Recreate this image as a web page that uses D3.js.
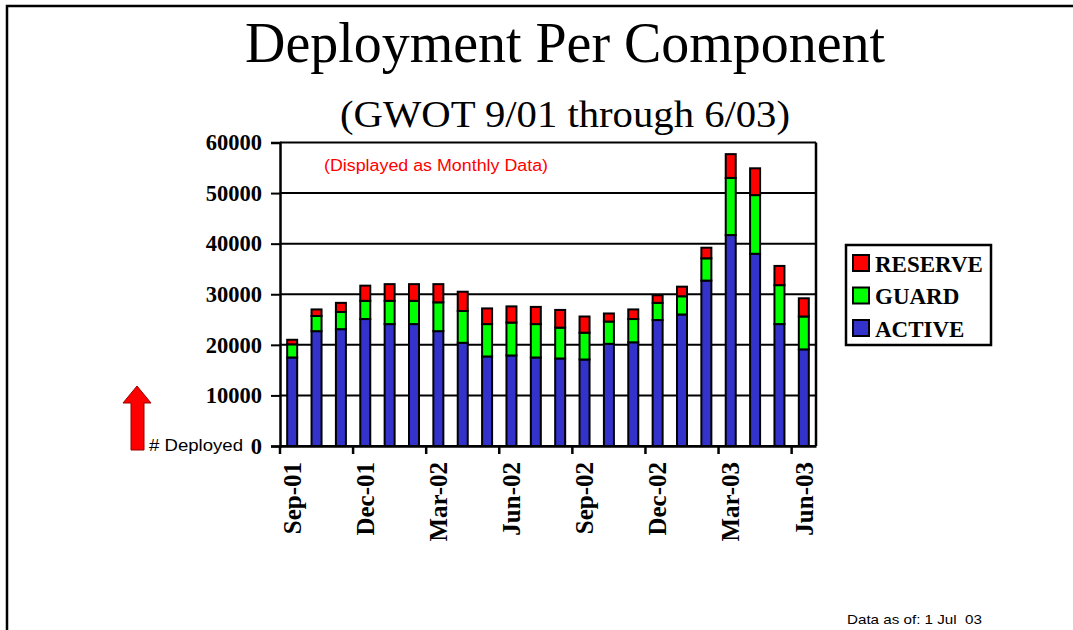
<!DOCTYPE html>
<html lang="en">
<head>
  <meta charset="UTF-8">
  <title>Deployment Per Component</title>
  <style>
    html, body {
      margin: 0;
      background: #fff;
      overflow: hidden;
      width: 100%;
      height: 100%;
    }
    svg {
      position: absolute;
      top: 0;
      left: 0;
    }
  </style>
</head>
<body>
  <svg width="1073" height="630"></svg>
</body>
<script src="https://d3js.org/d3.v7.min.js"></script>
<script type="text/javascript">
  const months = ['Sep-01', 'Oct-01', 'Nov-01', 'Dec-01', 'Jan-02', 'Feb-02', 'Mar-02', 'Apr-02',
    'May-02', 'Jun-02', 'Jul-02', 'Aug-02', 'Sep-02', 'Oct-02', 'Nov-02', 'Dec-02',
    'Jan-03', 'Feb-03', 'Mar-03', 'Apr-03', 'May-03', 'Jun-03']
  const active = [17500, 22700, 23100, 25100, 24100, 24100, 22700, 20400, 17700, 17900, 17500,
    17300, 17100, 20200, 20500, 24900, 26000, 32700, 41700, 38000, 24100, 19100]
  const guard = [2600, 3000, 3400, 3600, 4600, 4600, 5700, 6300, 6400, 6500, 6600,
    6100, 5300, 4400, 4600, 3400, 3600, 4400, 11300, 11600, 7700, 6500]
  const reserve = [900, 1300, 1800, 3000, 3300, 3300, 3600, 3800, 3100, 3200, 3400,
    3500, 3200, 1600, 1900, 1500, 1900, 2100, 4700, 5300, 3800, 3600]
  const labelMonths = ['Sep-01', 'Dec-01', 'Mar-02', 'Jun-02', 'Sep-02', 'Dec-02', 'Mar-03', 'Jun-03']
  const yTicks = [0, 10000, 20000, 30000, 40000, 50000, 60000]
  const keys = ['active', 'guard', 'reserve']
  const legendNames = { reserve: 'RESERVE', guard: 'GUARD', active: 'ACTIVE' }
  const colors = { active: '#3333cc', guard: '#00ff00', reserve: '#ff0000' }

  const svg = d3.select('svg')
  const serif = '"Liberation Serif", "Times New Roman", serif'
  const sans = '"Liberation Sans", Arial, sans-serif'

  // slide frame
  svg.append('path')
    .attr('d', 'M7,632 L7,6 L1075,6')
    .attr('fill', 'none')
    .attr('stroke', '#000')
    .attr('stroke-width', 2.5)

  // titles
  svg.append('text')
    .attr('x', 565).attr('y', 62)
    .attr('text-anchor', 'middle')
    .attr('font-family', serif)
    .attr('font-size', 56)
    .attr('textLength', 640)
    .attr('lengthAdjust', 'spacingAndGlyphs')
    .text('Deployment Per Component')

  svg.append('text')
    .attr('x', 565).attr('y', 127)
    .attr('text-anchor', 'middle')
    .attr('font-family', serif)
    .attr('font-size', 37)
    .attr('textLength', 450)
    .attr('lengthAdjust', 'spacingAndGlyphs')
    .text('(GWOT 9/01 through 6/03)')

  const plot = { left: 280, right: 816, top: 142.5, bottom: 446 }

  const x = d3.scaleBand()
    .domain(months)
    .range([plot.left, plot.right])
    .paddingInner(0)

  const y = d3.scaleLinear()
    .domain([0, 60000])
    .range([plot.bottom, plot.top])

  const data = months.map((m, i) => ({ month: m, active: active[i], guard: guard[i], reserve: reserve[i] }))
  const series = d3.stack().keys(keys)(data)

  // gridlines
  svg.append('g')
    .selectAll('line')
    .data(yTicks)
    .enter()
    .append('line')
    .attr('x1', plot.left)
    .attr('x2', plot.right)
    .attr('y1', d => y(d))
    .attr('y2', d => y(d))
    .attr('stroke', '#000')
    .attr('stroke-width', 2)

  // right border
  svg.append('line')
    .attr('x1', plot.right).attr('x2', plot.right)
    .attr('y1', plot.top).attr('y2', plot.bottom)
    .attr('stroke', '#000')
    .attr('stroke-width', 2.5)

  // bars
  const barW = 10
  svg.append('g')
    .selectAll('g')
    .data(series)
    .enter()
    .append('g')
    .attr('fill', d => colors[d.key])
    .selectAll('rect')
    .data(d => d)
    .enter()
    .append('rect')
    .attr('x', d => x(d.data.month) + x.bandwidth() / 2 - barW / 2)
    .attr('width', barW)
    .attr('y', d => y(d[1]))
    .attr('height', d => y(d[0]) - y(d[1]))
    .attr('stroke', '#000')
    .attr('stroke-width', 2)

  // y axis
  const yAxis = svg.append('g')
    .attr('transform', 'translate(' + plot.left + ',0)')
    .call(d3.axisLeft(y).tickValues(yTicks).tickFormat(d3.format('d')).tickSize(9).tickPadding(9))
  yAxis.select('.domain').attr('stroke-width', 2.5)
  yAxis.selectAll('.tick line').attr('stroke-width', 2)
  yAxis.selectAll('text')
    .attr('font-family', serif)
    .attr('font-weight', 'bold')
    .attr('font-size', 22.5)
    .attr('fill', '#000')

  // x axis
  const xAxis = svg.append('g')
    .attr('transform', 'translate(0,' + plot.bottom + ')')
    .call(d3.axisBottom(x).tickValues(labelMonths).tickSize(0).tickPadding(0))
  xAxis.select('.domain').attr('stroke-width', 2.5)
  xAxis.selectAll('text')
    .attr('font-family', serif)
    .attr('font-weight', 'bold')
    .attr('font-size', 25)
    .attr('fill', '#000')
    .attr('text-anchor', 'end')
    .attr('dy', '0.35em')
    .attr('transform', 'translate(0,16) rotate(-90)')
    .attr('x', 0)
    .attr('y', 0)

  // x tick marks on band edges
  svg.append('g')
    .selectAll('line')
    .data(labelMonths)
    .enter()
    .append('line')
    .attr('x1', d => x(d))
    .attr('x2', d => x(d))
    .attr('y1', plot.bottom)
    .attr('y2', plot.bottom + 8)
    .attr('stroke', '#000')
    .attr('stroke-width', 2.5)

  // note inside plot
  svg.append('text')
    .attr('x', 324).attr('y', 171)
    .attr('font-family', sans)
    .attr('font-size', 16)
    .attr('fill', '#ff0000')
    .attr('textLength', 224)
    .attr('lengthAdjust', 'spacingAndGlyphs')
    .text('(Displayed as Monthly Data)')

  // # Deployed arrow
  svg.append('path')
    .attr('d', 'M131,450 L131,403 L123,403 L137,386 L151,403 L144,403 L144,450 Z')
    .attr('fill', '#ff0000')
    .attr('stroke', '#900')
    .attr('stroke-width', 1)

  svg.append('text')
    .attr('x', 149).attr('y', 451)
    .attr('font-family', sans)
    .attr('font-size', 16)
    .attr('fill', '#000')
    .attr('textLength', 94)
    .attr('lengthAdjust', 'spacingAndGlyphs')
    .text('# Deployed')

  // legend
  const legend = svg.append('g')
  legend.append('rect')
    .attr('x', 846).attr('y', 245)
    .attr('width', 145).attr('height', 100)
    .attr('fill', '#fff')
    .attr('stroke', '#000')
    .attr('stroke-width', 2.5)
  const legendKeys = ['reserve', 'guard', 'active']
  const legendRow = legend.selectAll('g.row')
    .data(legendKeys)
    .enter()
    .append('g')
    .attr('class', 'row')
    .attr('transform', (d, i) => 'translate(853,' + (255 + i * 32.5) + ')')
  legendRow.append('rect')
    .attr('width', 16).attr('height', 16)
    .attr('fill', d => colors[d])
    .attr('stroke', '#000')
    .attr('stroke-width', 2)
  legendRow.append('text')
    .attr('x', 22).attr('y', 16.5)
    .attr('font-family', serif)
    .attr('font-weight', 'bold')
    .attr('font-size', 23)
    .text(d => legendNames[d])

  // footnote
  svg.append('text')
    .attr('x', 847).attr('y', 624)
    .attr('font-family', sans)
    .attr('font-size', 13.5)
    .attr('fill', '#000')
    .attr('xml:space', 'preserve')
    .attr('textLength', 135)
    .attr('lengthAdjust', 'spacingAndGlyphs')
    .text('Data as of: 1 Jul  03')
</script>
</html>
